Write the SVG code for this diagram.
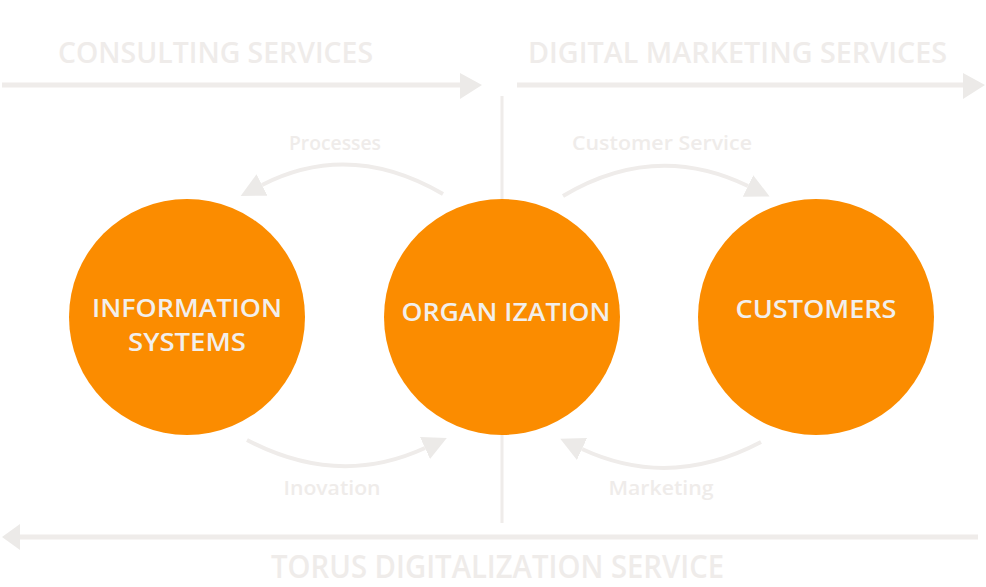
<svg xmlns="http://www.w3.org/2000/svg" width="986" height="587" viewBox="0 0 986 587">
  <style>
    .bg { fill: #ffffff; }
    .node circle { fill: #fb8c00; }
    .node text { fill: #f2efec; font-family: "Open Sans", "Noto Sans", sans-serif; font-size: 26px; font-weight: 600; text-anchor: middle; }
    .band { fill: #efecea; font-family: "Open Sans", "Noto Sans", sans-serif; font-size: 29px; font-weight: 600; }
    .band.narrow { font-size: 33px; }
    .flow { fill: #efecea; font-family: "Open Sans", "Noto Sans", sans-serif; font-size: 20px; font-weight: 600; text-anchor: middle; }
    .rule { stroke: #efecea; stroke-width: 5; fill: none; }
    .curve { stroke: #efecea; stroke-width: 4; fill: none; }
    .head { fill: #eceae8; }
  </style>
  <defs>
    <marker id="tip" viewBox="0 0 10 10" refX="0" refY="5" markerWidth="6" markerHeight="6" orient="auto" markerUnits="strokeWidth">
      <path class="head" d="M0,0 L10,5 L0,10 Z"/>
    </marker>
  </defs>
  <rect class="bg" x="0" y="0" width="986" height="587"/>

  <!-- service bands -->
  <g id="bands">
    <text class="band" x="58" y="63" textLength="315" lengthAdjust="spacingAndGlyphs">CONSULTING SERVICES</text>
    <text class="band" x="528" y="63" textLength="419" lengthAdjust="spacingAndGlyphs">DIGITAL MARKETING SERVICES</text>
    <text class="band narrow" x="271" y="578" textLength="453" lengthAdjust="spacingAndGlyphs">TORUS DIGITALIZATION SERVICE</text>
  </g>

  <g id="connectors">
    <!-- horizontal band arrows -->
    <line class="rule" x1="2" y1="85" x2="462" y2="85"/>
    <polygon class="head" points="460,73 482,85 460,99"/>
    <line class="rule" x1="517" y1="85" x2="965" y2="85"/>
    <polygon class="head" points="963,73 985,85 963,99"/>
    <line class="rule" x1="18" y1="537" x2="978" y2="537"/>
    <polygon class="head" points="2,537 20,524 20,550"/>
    <!-- divider -->
    <line x1="502" y1="96" x2="502" y2="523" stroke="#efecea" stroke-width="3"/>
    <!-- flow arcs -->
    <path class="curve" d="M443,194 Q350,140 262,185" marker-end="url(#tip)"/>
    <path class="curve" d="M563,196 Q655,141 748,186" marker-end="url(#tip)"/>
    <path class="curve" d="M247,440 Q338,488 425,448" marker-end="url(#tip)"/>
    <path class="curve" d="M761,442 Q670,490 582,449" marker-end="url(#tip)"/>
  </g>

  <g id="flow-labels">
    <text class="flow" x="335" y="150" textLength="92" lengthAdjust="spacingAndGlyphs">Processes</text>
    <text class="flow" x="662" y="150" textLength="180" lengthAdjust="spacingAndGlyphs">Customer Service</text>
    <text class="flow" x="332" y="495" textLength="97" lengthAdjust="spacingAndGlyphs">Inovation</text>
    <text class="flow" x="661" y="495" textLength="105" lengthAdjust="spacingAndGlyphs">Marketing</text>
  </g>

  <g id="information-systems" class="node">
    <circle cx="187" cy="317" r="118"/>
    <text x="187" y="317" textLength="190" lengthAdjust="spacingAndGlyphs">INFORMATION</text>
    <text x="187" y="351" textLength="118" lengthAdjust="spacingAndGlyphs">SYSTEMS</text>
  </g>
  <g id="organization" class="node">
    <circle cx="502" cy="317" r="118"/>
    <text x="506" y="321" textLength="209" lengthAdjust="spacingAndGlyphs">ORGAN IZATION</text>
  </g>
  <g id="customers" class="node">
    <circle cx="816" cy="317" r="118"/>
    <text x="816" y="318" textLength="161" lengthAdjust="spacingAndGlyphs">CUSTOMERS</text>
  </g>
</svg>
